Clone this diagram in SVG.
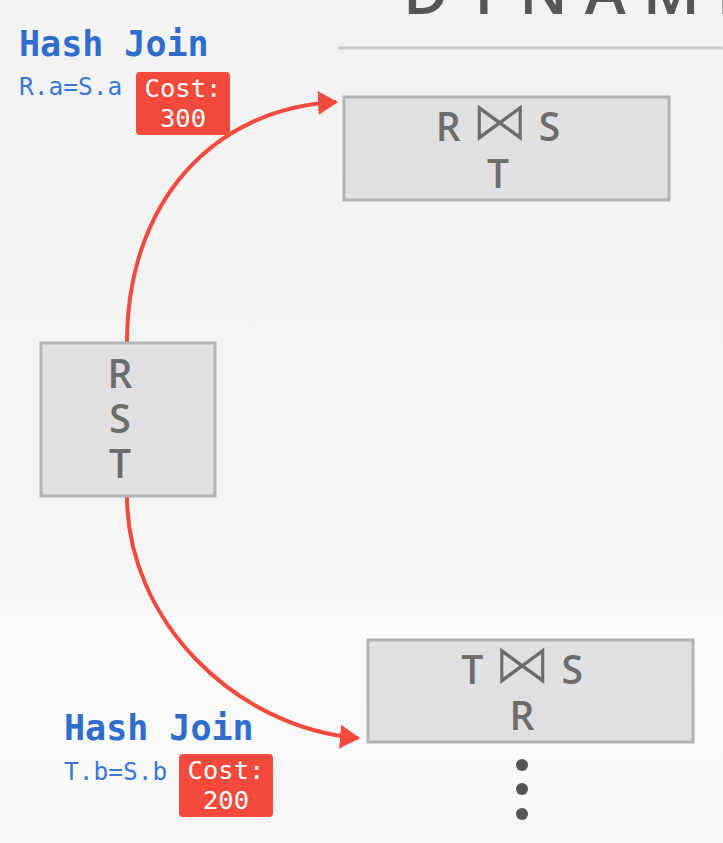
<svg xmlns="http://www.w3.org/2000/svg" width="723" height="843" viewBox="0 0 723 843">
<defs>
<linearGradient id="bg" x1="0" y1="0" x2="0" y2="1">
<stop offset="0" stop-color="#f2f2f3"/>
<stop offset="0.7" stop-color="#f5f5f6"/>
<stop offset="0.75" stop-color="#fafafb"/>
<stop offset="1" stop-color="#f7f7f8"/>
</linearGradient>
<marker id="arr" markerWidth="6" markerHeight="6" refX="4.5" refY="3" orient="auto" markerUnits="strokeWidth">
<path d="M0,0 L5,3 L0,6 Z" fill="#f24a3e"/>
</marker>
<style>
.node rect{fill:#e0e0e2;stroke:#b3b3b5;stroke-width:3}
.node text{font-family:"Open Sans","DejaVu Sans",sans-serif;font-weight:600;font-size:39px;fill:#6d6d6d;text-anchor:middle}
.bow{font-family:"DejaVu Sans",sans-serif;font-weight:normal;font-size:58px;stroke:#e0e0e2;stroke-width:1.6px}
.hj{font-family:"DejaVu Sans Mono","Liberation Mono",monospace;font-weight:bold;font-size:35px;fill:#2f6ccc}
.cond{font-family:"DejaVu Sans Mono","Liberation Mono",monospace;font-size:24.5px;fill:#3a78d8}
.cost rect{fill:#f44a3b}
.cost text{font-family:"DejaVu Sans Mono","Liberation Mono",monospace;font-size:25.5px;fill:#ffffff;text-anchor:middle}
.edge{fill:none;stroke:#f24a3e;stroke-width:4;marker-end:url(#arr)}
</style>
</defs>
<rect width="723" height="843" fill="url(#bg)"/>
<text x="403" y="14" font-family="Open Sans, DejaVu Sans, sans-serif" font-weight="600" font-size="62" letter-spacing="17" fill="#565656">DYNAMI</text>
<line x1="338" y1="48" x2="723" y2="48" stroke="#cbcbcb" stroke-width="3"/>

<g id="label-top">
<text class="hj" x="19" y="56">Hash Join</text>
<text class="cond" x="19" y="95">R.a=S.a</text>
<g class="cost"><rect x="136" y="72" width="94" height="63" rx="4"/><text x="183" y="97">Cost:</text><text x="183" y="127">300</text></g>
</g>
<g id="label-bottom">
<text class="hj" x="64" y="740">Hash Join</text>
<text class="cond" x="64" y="780">T.b=S.b</text>
<g class="cost"><rect x="179" y="754" width="94" height="63" rx="4"/><text x="226" y="779">Cost:</text><text x="226" y="809">200</text></g>
</g>

<g id="connectors">
<path class="edge" d="M127,343 C127,200 215,108 336,102"/>
<path class="edge" d="M127,496 C127,620 235,728 358,738"/>
</g>

<g id="node-rs-t" class="node">
<rect x="344" y="97" width="325" height="103"/>
<text x="498" y="141">R <tspan class="bow">⋈</tspan> S</text>
<text x="498" y="188">T</text>
</g>
<g id="node-rst" class="node">
<rect x="41" y="343" width="174" height="153"/>
<text x="120" y="388">R</text>
<text x="120" y="433">S</text>
<text x="120" y="478">T</text>
</g>
<g id="node-ts-r" class="node">
<rect x="368" y="640" width="325" height="102"/>
<text x="522" y="684">T <tspan class="bow">⋈</tspan> S</text>
<text x="522" y="730">R</text>
</g>
<g id="dots" fill="#555555">
<circle cx="522" cy="765" r="6"/>
<circle cx="522" cy="789" r="6"/>
<circle cx="522" cy="814" r="6"/>
</g>
</svg>
